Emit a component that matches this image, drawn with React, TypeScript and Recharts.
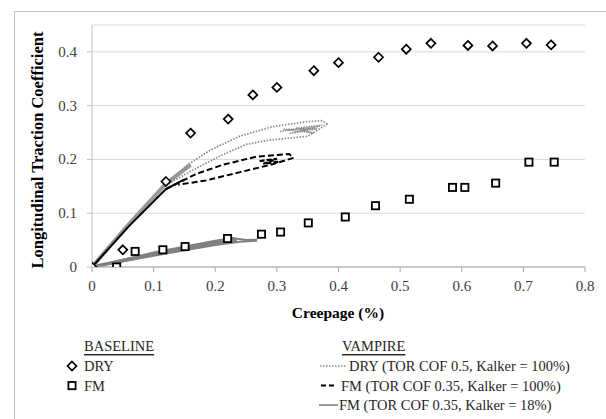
import React from 'react';
import { ComposedChart, XAxis, YAxis, CartesianGrid, Scatter, Line } from 'recharts';

const xTicks = [0, 0.1, 0.2, 0.3, 0.4, 0.5, 0.6, 0.7, 0.8];
const yTicks = [0, 0.1, 0.2, 0.3, 0.4];

// BASELINE measurements
const baselineDry = [
  { x: 0, y: 0 }, { x: 0.05, y: 0.032 }, { x: 0.12, y: 0.159 }, { x: 0.16, y: 0.249 },
  { x: 0.221, y: 0.275 }, { x: 0.261, y: 0.32 }, { x: 0.3, y: 0.334 }, { x: 0.36, y: 0.365 },
  { x: 0.4, y: 0.38 }, { x: 0.465, y: 0.39 }, { x: 0.51, y: 0.405 }, { x: 0.55, y: 0.416 },
  { x: 0.61, y: 0.412 }, { x: 0.65, y: 0.411 }, { x: 0.705, y: 0.416 }, { x: 0.745, y: 0.413 },
];
const baselineFm = [
  { x: 0.04, y: 0 }, { x: 0.07, y: 0.029 }, { x: 0.115, y: 0.032 }, { x: 0.151, y: 0.038 },
  { x: 0.22, y: 0.053 }, { x: 0.275, y: 0.061 }, { x: 0.306, y: 0.065 }, { x: 0.351, y: 0.082 },
  { x: 0.411, y: 0.093 }, { x: 0.46, y: 0.114 }, { x: 0.515, y: 0.126 }, { x: 0.585, y: 0.148 },
  { x: 0.605, y: 0.148 }, { x: 0.655, y: 0.156 }, { x: 0.709, y: 0.195 }, { x: 0.75, y: 0.195 },
];

// VAMPIRE DRY (TOR COF 0.5, Kalker = 100%)
const vDryRamp = [{ x: 0, y: 0 }, { x: 0.06, y: 0.08 }, { x: 0.12, y: 0.155 }, { x: 0.16, y: 0.19 }];
const vDryUpper = [
  { x: 0.12, y: 0.155 }, { x: 0.155, y: 0.19 }, { x: 0.19, y: 0.216 }, { x: 0.239, y: 0.243 },
  { x: 0.293, y: 0.261 }, { x: 0.347, y: 0.27 }, { x: 0.372, y: 0.272 }, { x: 0.382, y: 0.266 },
];
const vDryLower = [
  { x: 0.382, y: 0.266 }, { x: 0.35, y: 0.243 }, { x: 0.288, y: 0.236 }, { x: 0.25, y: 0.228 },
  { x: 0.207, y: 0.206 }, { x: 0.16, y: 0.178 }, { x: 0.12, y: 0.152 },
];
const vDryCluster = [
  { x: 0.305, y: 0.252 }, { x: 0.37, y: 0.262 }, { x: 0.32, y: 0.248 }, { x: 0.365, y: 0.257 },
  { x: 0.31, y: 0.256 }, { x: 0.36, y: 0.249 }, { x: 0.33, y: 0.258 }, { x: 0.375, y: 0.264 },
];

// VAMPIRE FM (TOR COF 0.35, Kalker = 100%)
const vFm100Ramp = [{ x: 0, y: 0 }, { x: 0.06, y: 0.076 }, { x: 0.12, y: 0.145 }, { x: 0.15, y: 0.163 }];
const vFm100Upper = [
  { x: 0.12, y: 0.145 }, { x: 0.169, y: 0.173 }, { x: 0.212, y: 0.19 }, { x: 0.266, y: 0.205 },
  { x: 0.32, y: 0.21 }, { x: 0.327, y: 0.203 },
];
const vFm100Lower = [
  { x: 0.327, y: 0.203 }, { x: 0.293, y: 0.191 }, { x: 0.239, y: 0.176 }, { x: 0.185, y: 0.161 },
  { x: 0.14, y: 0.153 },
];
const vFm100Cluster = [
  { x: 0.272, y: 0.197 }, { x: 0.3, y: 0.201 }, { x: 0.278, y: 0.192 }, { x: 0.305, y: 0.196 },
];

// VAMPIRE FM (TOR COF 0.35, Kalker = 18%)
const vFm18Upper = [
  { x: 0, y: 0 }, { x: 0.1, y: 0.027 }, { x: 0.2, y: 0.049 }, { x: 0.228, y: 0.054 },
  { x: 0.25, y: 0.05 }, { x: 0.268, y: 0.051 },
];
const vFm18Mid = [{ x: 0, y: 0 }, { x: 0.1, y: 0.024 }, { x: 0.2, y: 0.045 }, { x: 0.235, y: 0.05 }];
const vFm18Lower = [
  { x: 0, y: 0 }, { x: 0.1, y: 0.021 }, { x: 0.2, y: 0.041 }, { x: 0.24, y: 0.047 }, { x: 0.268, y: 0.049 },
];

const FONT = 'Liberation Serif, Times New Roman, serif';

const Diamond = (p: any) => {
  const { cx, cy } = p;
  const r = 4.5;
  return (
    <polygon
      points={`${cx},${cy - r} ${cx + r},${cy} ${cx},${cy + r} ${cx - r},${cy}`}
      fill="#fff" stroke="#000" strokeWidth={1.7}
    />
  );
};
const Square = (p: any) => {
  const { cx, cy } = p;
  const r = 3.6;
  return <rect x={cx - r} y={cy - r} width={2 * r} height={2 * r} fill="#fff" stroke="#000" strokeWidth={1.8} />;
};

const fmt = (v: number) => (v === 0 ? '0' : String(Math.round(v * 10) / 10));

const XTick = (p: any) => {
  const { x, y, payload } = p;
  return (
    <text x={x} y={y} dy={15} textAnchor="middle" fontFamily={FONT} fontSize={15} fill="#404040">
      {fmt(payload.value)}
    </text>
  );
};
const YTick = (p: any) => {
  const { x, y, payload } = p;
  return (
    <text x={x} y={y} dy={5} textAnchor="end" fontFamily={FONT} fontSize={15} fill="#404040">
      {fmt(payload.value)}
    </text>
  );
};

const grayDot = '#8c8c8c';
const grayLine = '#808080';
const LF = 14.5;

export default function App() {
  return (
    <div style={{ position: 'absolute', left: 0, top: 0, width: 606, height: 419, background: '#fff', fontFamily: FONT, overflow: 'hidden' }}>
      <div style={{ position: 'absolute', left: 14, top: 11, width: 600, height: 420, borderLeft: '1px solid #bfbfbf', borderTop: '1px solid #bfbfbf' }} />
      <div style={{ position: 'absolute', left: 0, top: 0 }}>
        <ComposedChart width={606} height={419} margin={{ top: 25, right: 21, bottom: 122, left: 32 }} style={{ fontFamily: FONT }}>
          <CartesianGrid vertical={false} stroke="#d9d9d9" />
          <XAxis
            type="number" dataKey="x" domain={[0, 0.8]} ticks={xTicks} height={30}
            axisLine={{ stroke: '#a6a6a6' }} tickLine={{ stroke: '#a6a6a6' }} tickSize={5} tickMargin={4}
            tick={<XTick />} allowDataOverflow
          />
          <YAxis
            type="number" dataKey="y" domain={[0, 0.45]} ticks={yTicks} width={60}
            axisLine={{ stroke: '#bfbfbf' }} tickLine={{ stroke: '#bfbfbf' }} tickSize={5} tickMargin={10}
            tick={<YTick />} allowDataOverflow
          />
          <Line data={vFm18Upper} dataKey="y" stroke={grayLine} strokeWidth={2} dot={false} isAnimationActive={false} />
          <Line data={vFm18Mid} dataKey="y" stroke={grayLine} strokeWidth={3.5} dot={false} isAnimationActive={false} />
          <Line data={vFm18Lower} dataKey="y" stroke={grayLine} strokeWidth={2} dot={false} isAnimationActive={false} />
          <Line data={vDryRamp} dataKey="y" stroke="#999" strokeWidth={4} dot={false} isAnimationActive={false} />
          <Line data={vFm100Ramp} dataKey="y" stroke="#000" strokeWidth={2} dot={false} isAnimationActive={false} />
          <Line data={vDryUpper} dataKey="y" stroke={grayDot} strokeWidth={1.8} strokeDasharray="1.5 1.5" dot={false} isAnimationActive={false} />
          <Line data={vDryLower} dataKey="y" stroke={grayDot} strokeWidth={1.8} strokeDasharray="1.5 1.5" dot={false} isAnimationActive={false} />
          <Line data={vDryCluster} dataKey="y" stroke={grayDot} strokeWidth={1.4} strokeDasharray="1.5 1" dot={false} isAnimationActive={false} />
          <Line data={vFm100Upper} dataKey="y" stroke="#000" strokeWidth={2} strokeDasharray="6 3" dot={false} isAnimationActive={false} />
          <Line data={vFm100Lower} dataKey="y" stroke="#000" strokeWidth={2} strokeDasharray="6 3" dot={false} isAnimationActive={false} />
          <Line data={vFm100Cluster} dataKey="y" stroke="#000" strokeWidth={2.2} strokeDasharray="5 2" dot={false} isAnimationActive={false} />
          <Scatter data={baselineDry} shape={Diamond} isAnimationActive={false} />
          <Scatter data={baselineFm} shape={Square} isAnimationActive={false} />
        </ComposedChart>
      </div>
      <svg width={606} height={419} style={{ position: 'absolute', left: 0, top: 0, pointerEvents: 'none' }}>
        <text x={37} y={150} transform="rotate(-90 37 150)" textAnchor="middle" dominantBaseline="central"
          fontFamily={FONT} fontSize={16.5} fontWeight="bold" fill="#000">Longitudinal Traction Coefficient</text>
        <text x={338} y={312} textAnchor="middle" dominantBaseline="central" fontFamily={FONT} fontSize={15.5} fontWeight="bold" fill="#000">Creepage (%)</text>
        <text x={84} y={346} dominantBaseline="central" fontFamily={FONT} fontSize={LF} fill="#262626" textDecoration="underline">BASELINE</text>
        <polygon points="72,361.5 76.5,366 72,370.5 67.5,366" fill="#fff" stroke="#000" strokeWidth={1.7} />
        <text x={84} y={366} dominantBaseline="central" fontFamily={FONT} fontSize={LF} fill="#262626">DRY</text>
        <rect x={68.4} y={382} width={7.2} height={7.2} fill="#fff" stroke="#000" strokeWidth={1.8} />
        <text x={84} y={385.5} dominantBaseline="central" fontFamily={FONT} fontSize={LF} fill="#262626">FM</text>
        <text x={342} y={346} dominantBaseline="central" fontFamily={FONT} fontSize={LF} fill="#262626" textDecoration="underline">VAMPIRE</text>
        <line x1={320} y1={366} x2={347} y2={366} stroke={grayDot} strokeWidth={1.6} strokeDasharray="1.5 1.5" />
        <text x={349} y={366} dominantBaseline="central" fontFamily={FONT} fontSize={LF} fill="#262626">DRY (TOR COF 0.5, Kalker = 100%)</text>
        <line x1={321} y1={385.5} x2={337} y2={385.5} stroke="#000" strokeWidth={2} strokeDasharray="5 3" />
        <text x={341} y={385.5} dominantBaseline="central" fontFamily={FONT} fontSize={LF} fill="#262626">FM (TOR COF 0.35, Kalker = 100%)</text>
        <line x1={319} y1={405} x2={338} y2={405} stroke={grayLine} strokeWidth={1.6} />
        <text x={339} y={405} dominantBaseline="central" fontFamily={FONT} fontSize={LF} fill="#262626">FM (TOR COF 0.35, Kalker = 18%)</text>
      </svg>
    </div>
  );
}
